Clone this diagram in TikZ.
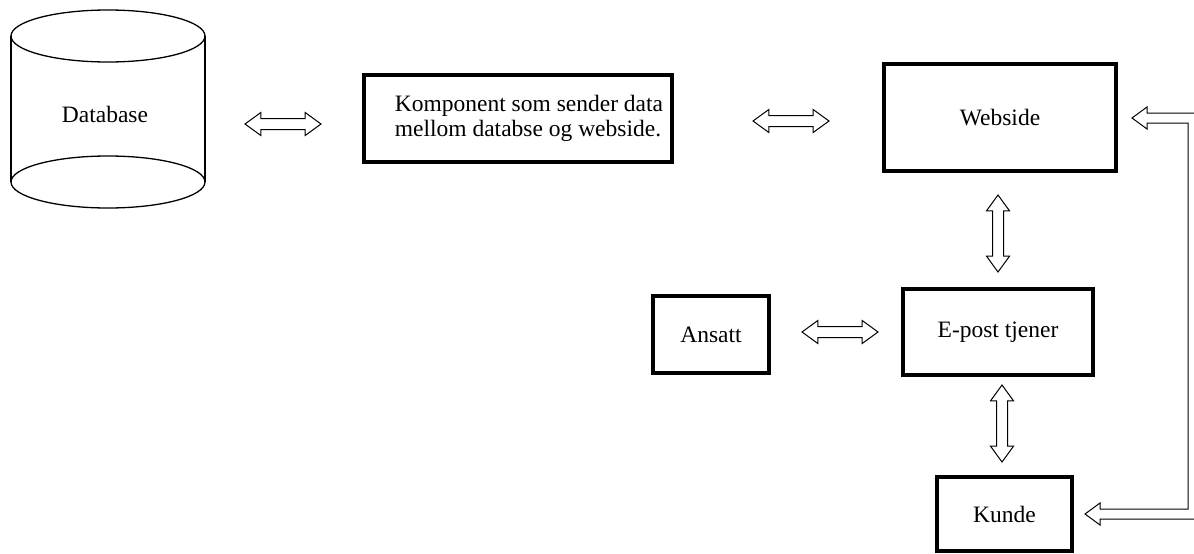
\documentclass[tikz,border=0pt]{standalone}
\usepackage{fontspec}
\setmainfont{Liberation Serif}
\usetikzlibrary{shapes.arrows,calc}
\begin{document}
\begin{tikzpicture}[x=1pt,y=-1pt,
  txt/.style={font=\fontsize{23.5}{25}\selectfont},
  box/.style={draw, line width=4pt, txt, inner sep=0pt},
  harrow/.style={double arrow, draw, line width=1pt, minimum height=76pt, minimum width=22pt,
    inner xsep=0pt, inner ysep=5pt, double arrow head extend=6pt, double arrow tip angle=72,
    double arrow head indent=0pt},
  varrow/.style={harrow, rotate=90},
  conn/.style={line width=1pt, line join=miter}]
\useasboundingbox (0,0) rectangle (1194,554);
\clip (0,0) rectangle (1194,554);
% database cylinder
\draw[line width=1.3pt] (108,36) ellipse [x radius=97, y radius=26];
\draw[line width=1.3pt] (108,182) ellipse [x radius=97, y radius=26];
\draw[line width=1.3pt] (11,36) -- (11,182) (205,36) -- (205,182);
\node[txt] (db) at (105,114) {Database};
% boxes
\node[box, minimum width=308pt, minimum height=87pt, align=left] (komp) at (518,118.5)
  {\hspace*{22pt}Komponent som sender data\\\hspace*{22pt}mellom databse og webside.};
\node[box, minimum width=232pt, minimum height=107pt] (web) at (1000,117.5) {Webside};
\node[box, minimum width=116pt, minimum height=77pt] (ansatt) at (711,334.5) {Ansatt};
\node[box, minimum width=190pt, minimum height=86pt] (epost) at (998,332) {E-post tjener};
\node[box, minimum width=135pt, minimum height=74pt] (kunde) at (1004.5,514) {Kunde};
% double arrows
\node[harrow] (a1) at (283,124) {};
\node[harrow] (a2) at (791,121) {};
\node[harrow] (a3) at (840,332) {};
\node[varrow, minimum height=77pt] (v1) at (998,233.5) {};
\node[varrow, minimum height=77pt] (v2) at (1002,423.5) {};
% bent hollow arrow Kunde <-> Webside
\coordinate (wt) at ($(web.east)+(14,0.5)$);
\coordinate (kt) at ($(kunde.east)+(11,0)$);
\draw[conn] ($(wt)+(100,-5)$) -- ($(wt)+(15,-5)$) -- ($(wt)+(15,-11)$) -- (wt)
  -- ($(wt)+(15,11)$) -- ($(wt)+(15,5)$) -- ($(wt)+(56,5)$) |- ($(kt)+(15,-5)$)
  -- ($(kt)+(15,-11)$) -- (kt) -- ($(kt)+(15,11)$) -- ($(kt)+(15,5)$) -- ($(kt)+(200,5)$);
\end{tikzpicture}
\end{document}
